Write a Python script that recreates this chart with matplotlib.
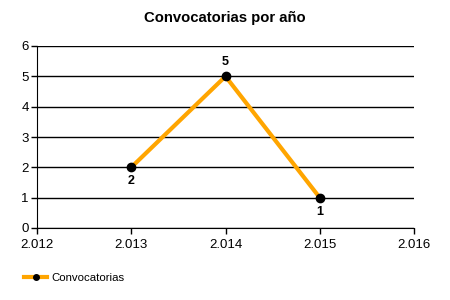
import matplotlib
matplotlib.use("Agg")
import matplotlib.pyplot as plt
import matplotlib.ticker as ticker
from matplotlib.lines import Line2D

years = [2013, 2014, 2015]
counts = [2, 5, 1]
label_offsets = [-1, 1, -1]  # below / above the point
series_name = "Convocatorias"
title = "Convocatorias por año"


def year_fmt(x, pos):
    # Spanish-style thousands separator: 2012 -> 2.012
    return f"{int(round(x)):,}".replace(",", ".")


plt.rcParams["font.family"] = ["Liberation Sans", "DejaVu Sans"]

fig = plt.figure(figsize=(4.5, 3), dpi=100)
ax = fig.add_axes([37 / 450, 1 - 228 / 300, (414 - 37) / 450, (228 - 46) / 300])

ax.plot(years, counts, color="#FFA500", linewidth=3, marker="o",
        markersize=6, markerfacecolor="black", markeredgecolor="black",
        zorder=3, clip_on=False)

for x, y, off in zip(years, counts, label_offsets):
    ax.annotate(str(y), (x, y), xytext=(0, 10 * off), textcoords="offset points",
                ha="center", va="center", fontsize=9, fontweight="bold")

ax.set_xlim(2012, 2016)
ax.set_ylim(0, 6)
ax.xaxis.set_major_locator(ticker.MultipleLocator(1))
ax.yaxis.set_major_locator(ticker.MultipleLocator(1))
ax.xaxis.set_major_formatter(ticker.FuncFormatter(year_fmt))
ax.yaxis.grid(True, color="black", linewidth=1)
ax.set_axisbelow(True)
for side in ("top", "right"):
    ax.spines[side].set_visible(False)
ax.tick_params(labelsize=9.5, length=4, width=1)
ax.tick_params(axis="x", pad=4)
ax.tick_params(axis="y", pad=2)

fig.suptitle(title, x=0.5, y=1 - 18 / 300, va="center", fontsize=10.7,
             fontweight="bold")

handle = Line2D([], [], color="#FFA500", linewidth=3, marker="o",
                markersize=4, markerfacecolor="black", markeredgecolor="black")
fig.legend([handle], [series_name], loc="center left",
           bbox_to_anchor=(14 / 450, 1 - 278 / 300), frameon=False,
           fontsize=8.2, handlelength=2.0, handletextpad=0.4)

fig.savefig("out.png", dpi=100)
